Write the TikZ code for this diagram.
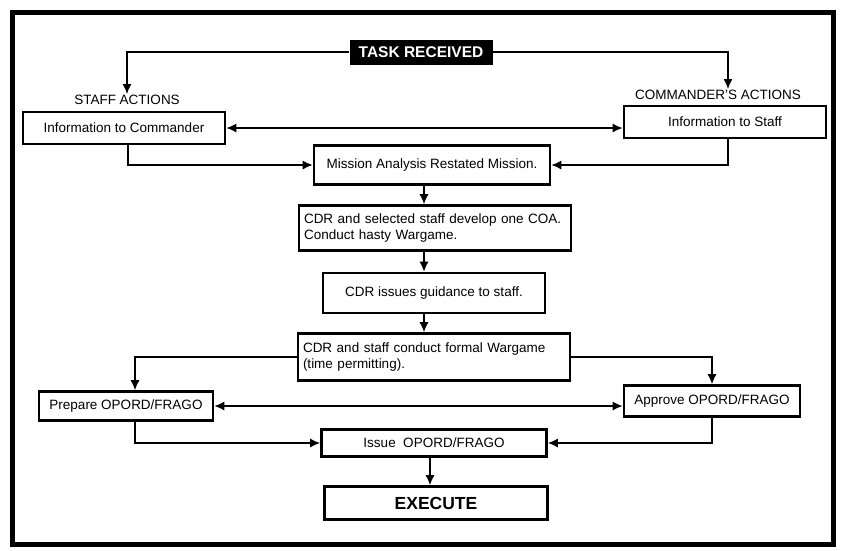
\documentclass[tikz,border=0pt]{standalone}
\usepackage{fontspec}
\setmainfont{Liberation Sans}
\usetikzlibrary{positioning, arrows.meta}

\begin{document}
\begin{tikzpicture}[x=1pt, y=-1pt,
		box/.style={draw, line width=2.6pt, inner sep=2pt, font=\fontsize{13.5}{16}\selectfont},
		twoline/.style={box, text width=262pt, align=left, inner xsep=5pt},
		lbl/.style={inner sep=1pt, font=\fontsize{13.5}{16}\selectfont},
		arr/.style={line width=1.4pt, -{Latex[length=10pt, width=9pt]}},
		darr/.style={line width=1.4pt, {Latex[length=10pt, width=9pt]}-{Latex[length=10pt, width=9pt]}}]
		\useasboundingbox (0,0) rectangle (841,550);
		\draw[line width=5pt] (12,12) rectangle (833,544);
		% top: task and the two sides
		\node[fill=black, text=white, inner sep=0pt, minimum width=143pt, minimum height=25pt, font=\fontsize{15.5}{18}\selectfont\bfseries] (task) at (421,52) {TASK RECEIVED};
		\node[lbl] (stafflbl) at (127,100) {STAFF ACTIONS};
		\node[lbl] (cmdlbl) at (718,95) {COMMANDER'S ACTIONS};
		\node[box, minimum width=202pt, minimum height=32pt] (incmd) at (124,128) {Information to Commander};
		\node[box, minimum width=202pt, minimum height=32pt] (instaff) at (725,122) {Information to Staff};
		% middle column
		\coordinate (spine) at (424,0);
		\node[box, minimum width=236pt, minimum height=39pt] (mission) at (432,165) {Mission Analysis Restated Mission.};
		\node[twoline, minimum height=45pt] (develop) at (435,228) {CDR and selected staff develop one COA.\\Conduct hasty Wargame.};
		\node[box, minimum width=222pt, minimum height=40pt] (guidance) at (434,293) {CDR issues guidance to staff.};
		\node[twoline, minimum height=47pt] (formal) at (434,357) {CDR and staff conduct formal Wargame\\(time permitting).};
		% bottom
		\node[box, minimum width=174pt, minimum height=29pt] (prepare) at (126,406) {Prepare OPORD/FRAGO};
		\node[box, minimum width=176pt, minimum height=31pt] (approve) at (712,401) {Approve OPORD/FRAGO};
		\node[box, minimum width=225pt, minimum height=27pt] (issue) at (434,443) {Issue\ \ OPORD/FRAGO};
		\node[box, minimum width=223pt, minimum height=33pt, font=\fontsize{17.5}{20}\selectfont\bfseries] (execute) at (436,503) {EXECUTE};
		% connectors
		\draw[arr] (task.west) -| (stafflbl.north);
		\draw[arr] (task.east) -| ([xshift=3pt]cmdlbl.north -| instaff);
		\draw[darr] (incmd.east) -- (incmd.east -| instaff.west);
		\draw[arr] ([xshift=4pt]incmd.south) |- (mission.west);
		\draw[arr] ([xshift=3pt]instaff.south) |- (mission.east);
		\draw[arr] (mission.south -| spine) -- (develop.north -| spine);
		\draw[arr] (develop.south -| spine) -- (guidance.north -| spine);
		\draw[arr] (guidance.south -| spine) -- (formal.north -| spine);
		\draw[arr] (formal.west) -| ([xshift=9pt]prepare.north);
		\draw[arr] (formal.east) -| (approve.north);
		\draw[darr] (prepare.east) -- (prepare.east -| approve.west);
		\draw[arr] ([xshift=9pt]prepare.south) |- (issue.west);
		\draw[arr] (approve.south) |- (issue.east);
		\draw[arr] ([xshift=-4pt]issue.south) -- ([xshift=-4pt]issue.south |- execute.north);
\end{tikzpicture}
\end{document}
